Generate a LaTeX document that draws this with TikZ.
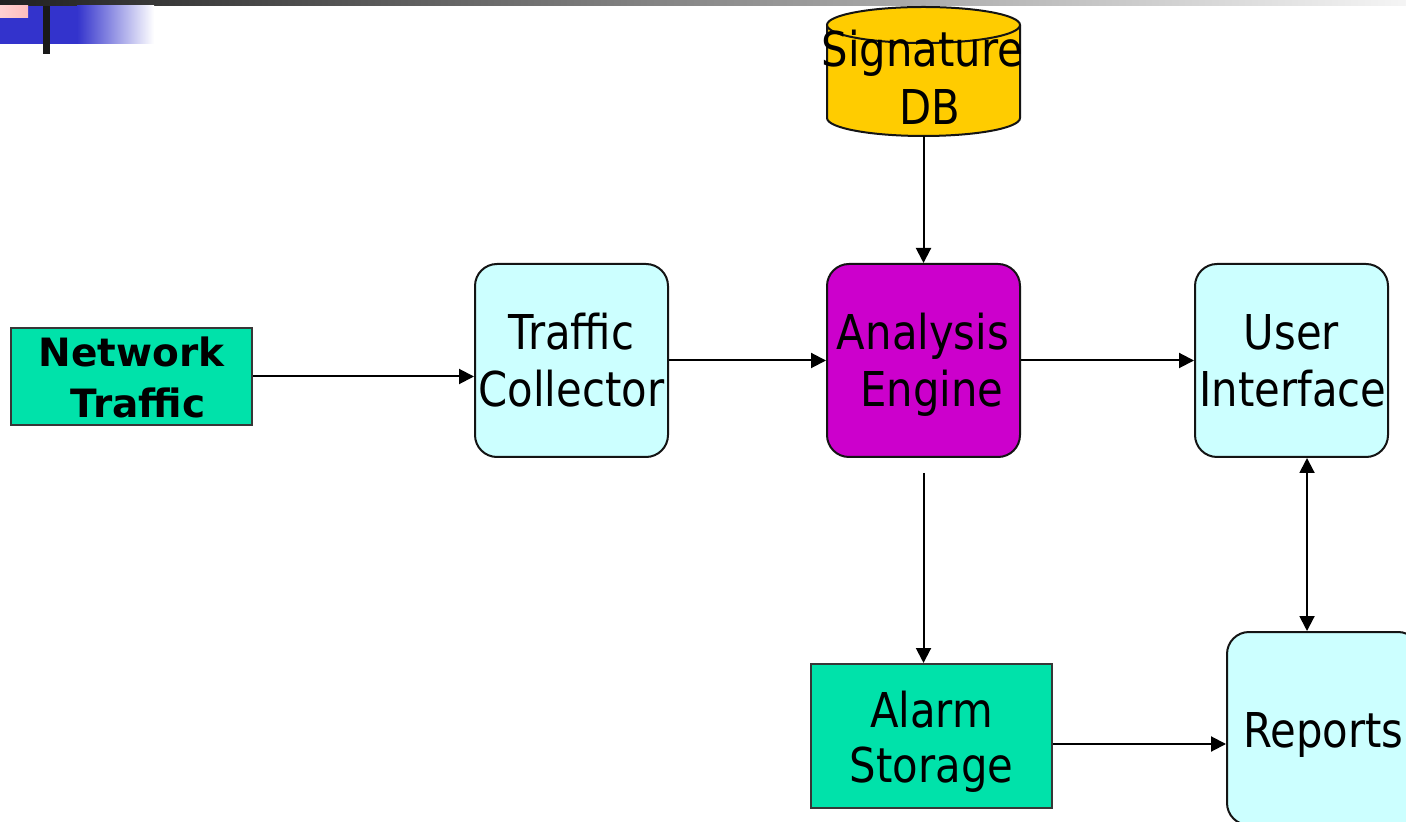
\documentclass[tikz,border=0pt]{standalone}
\usepackage{fontspec}
\usetikzlibrary{arrows.meta}

% Slide typeface: a narrowed humanist sans for the regular labels
\newfontfamily\narrowsans{DejaVu Sans}[FakeStretch=0.87]
\newfontfamily\widesans{DejaVu Sans}

\definecolor{mint}{RGB}{0,226,170}
\definecolor{paleblue}{RGB}{204,255,255}
\definecolor{enginefill}{RGB}{204,0,204}
\definecolor{dbgold}{RGB}{255,204,0}
\definecolor{barblue}{RGB}{51,51,204}
\definecolor{barpink}{RGB}{255,190,190}
\definecolor{edge}{RGB}{20,20,20}

\tikzset{
  roundbox/.style={draw=edge, line width=1pt, inner sep=0pt, fill=paleblue,
    minimum width=96.5pt, minimum height=96.5pt, rounded corners=11pt},
  flatbox/.style={draw=edge!85, line width=1pt, inner sep=0pt, fill=mint},
  lbl/.style={anchor=base, inner sep=0pt, text=black,
    font=\narrowsans\fontsize{24pt}{28pt}\selectfont},
  boldlbl/.style={anchor=base, inner sep=0pt, text=black,
    font=\widesans\bfseries\fontsize{19.5pt}{24pt}\selectfont},
  tip/.style={Triangle[length=7.5pt,width=7.5pt]},
  arr/.style={-{Triangle[length=7.5pt,width=7.5pt]}, line width=1pt, draw=black},
  dblarr/.style={{Triangle[length=7.5pt,width=7.5pt]}-{Triangle[length=7.5pt,width=7.5pt]},
    line width=1pt, draw=black},
}

\begin{document}
\begin{tikzpicture}[x=0.5pt, y=-0.5pt]
  \clip (0,0) rectangle (1406,822);
  \fill[white] (0,0) rectangle (1406,822);

  % slide header decoration
  \shade[left color=black!87, right color=black!4] (0,0) rectangle (1406,6);
  \fill[barblue] (0,6) rectangle (78,44);
  \shade[left color=barblue, right color=white] (77,6) rectangle (154,44);
  \shade[left color=barpink!70, right color=barpink] (0,6) rectangle (28,18);
  \fill[black!90] (43,6) rectangle (50,54);

  % signature database cylinder
  \fill[dbgold] (827,25) -- (827,118)
    arc[start angle=180, end angle=0, x radius=96.5, y radius=18] -- (1020,25) -- cycle;
  \draw[edge, line width=1pt] (827,25) -- (827,118)
    arc[start angle=180, end angle=0, x radius=96.5, y radius=18] -- (1020,25);
  \draw[edge, line width=1pt, fill=dbgold] (923.5,25) ellipse[x radius=96.5, y radius=18];
  \node[inner sep=0pt, minimum width=96.5pt, minimum height=64.5pt] (db) at (923.5,71.5) {};
  \node[lbl] (db1) at (922.5,67) {Signature};
  \node[lbl] (db2) at (930,125) {DB};

  % processing boxes
  \node[flatbox, minimum width=120.5pt, minimum height=48.5pt] (nt) at (131.5,376.5) {};
  \node[boldlbl] (nt1) at (131.5,367) {Network};
  \node[boldlbl] (nt2) at (138,418) {Traffic};

  \node[roundbox] (tc) at (571.5,360.5) {};
  \node[lbl] (tc1) at (571.5,350) {Traffic};
  \node[lbl] (tc2) at (571.5,407) {Collector};

  \node[roundbox, fill=enginefill] (ae) at (923.5,360.5) {};
  \node[lbl] (ae1) at (923,350) {Analysis};
  \node[lbl] (ae2) at (932,407) {Engine};

  \node[roundbox] (ui) at (1291.5,360.5) {};
  \node[lbl] (ui1) at (1291.5,350) {User};
  \node[lbl] (ui2) at (1293,407) {Interface};

  \node[flatbox, minimum width=120.5pt, minimum height=72pt] (as) at (931.5,736) {};
  \node[lbl] (as1) at (931.5,727) {Alarm};
  \node[lbl] (as2) at (931.5,782) {Storage};

  \node[roundbox] (rp) at (1323.5,728.5) {};
  \node[lbl] (rp1) at (1323.5,747) {Reports};

  % connectors
  \draw[arr] (nt.east) -- (nt.east -| tc.west);
  \draw[arr] (tc.east) -- (ae.west);
  \draw[arr] (ae.east) -- (ui.west);
  \draw[arr] (db.south) -- (ae.north);
  \draw[arr] ([yshift=-7.5pt]ae.south) -- (ae.south |- as.north);
  \draw[arr] ([yshift=-4pt]as.east) -- ([yshift=-4pt]as.east -| rp.west);
  \draw[dblarr] ([xshift=7.75pt]ui.south) -- ([xshift=7.75pt]ui.south |- rp.north);
\end{tikzpicture}
\end{document}
